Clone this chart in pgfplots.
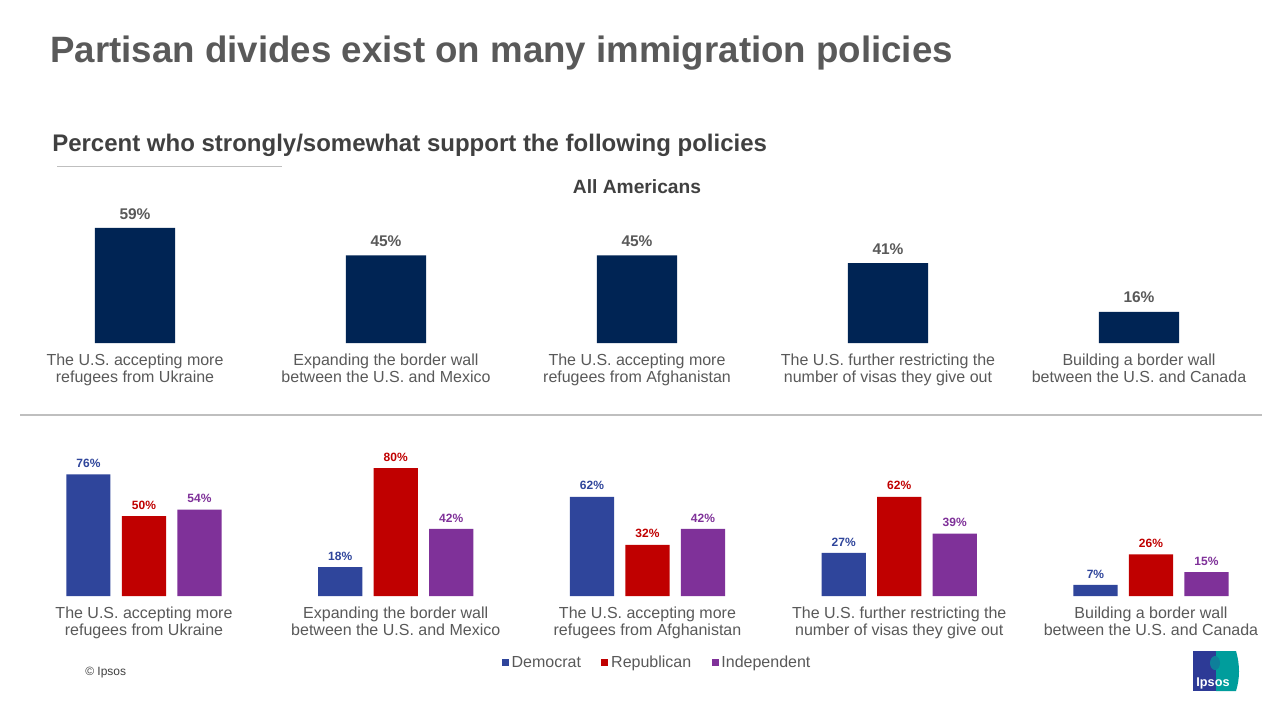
\documentclass[border=0pt]{standalone}
\usepackage{pgfplots}
\pgfplotsset{compat=1.18}
\usepackage{fontspec}
\setmainfont{Liberation Sans}
\definecolor{titlegray}{HTML}{595959}
\definecolor{subgray}{HTML}{404040}
\definecolor{labgray}{HTML}{595959}
\definecolor{linegray}{HTML}{BFBFBF}
\definecolor{navy}{HTML}{002454}
\definecolor{dem}{HTML}{2F459B}
\definecolor{rep}{HTML}{C00000}
\definecolor{ind}{HTML}{7F3199}
\definecolor{ipblue}{HTML}{2D3A96}
\definecolor{ipteal}{HTML}{009D9C}
\begin{document}
\begin{tikzpicture}
\useasboundingbox[fill=white] (0pt,0pt) rectangle (960pt,-540pt);
\begin{scope}[x=0.75pt,y=-0.75pt]
\node[anchor=base west,inner sep=0pt,text=titlegray,font=\bfseries\fontsize{27.5}{30}\selectfont] at (50,63) {Partisan divides exist on many immigration policies};
\node[anchor=base west,inner sep=0pt,text=subgray,font=\bfseries\fontsize{18}{20}\selectfont] at (52,152) {Percent who strongly/somewhat support the following policies};
\draw[linegray,line width=0.75pt] (57,167) -- (282,167);
\node[anchor=base,inner sep=0pt,text=subgray,font=\bfseries\fontsize{14.4}{16}\selectfont] at (637,194) {All Americans};
\draw[linegray,line width=1pt] (20,415) -- (1262,415);
\node[anchor=west,inner sep=0pt,text=subgray,font=\fontsize{9}{10}\selectfont] at (85,673) {© Ipsos};
% logo
\fill[ipblue] (1193,651) rectangle (1216,691);
\fill[ipteal] (1216,651) -- (1236,651) .. controls (1240,665) and (1240,678) .. (1236,691) -- (1216,691) -- cycle;
\fill[ipteal!70!ipblue] (1215,663) ellipse (5 and 7);
\node[text=white,font=\bfseries\fontsize{9.5}{10}\selectfont,inner sep=0pt] at (1213,683) {Ipsos};
\end{scope}

\begin{axis}[at={(7.125pt,-257.25pt)},anchor=south west,scale only axis,
  width=941.25pt,height=102.375pt,
  xmin=-0.5,xmax=4.5,ymin=0,ymax=70,
  axis line style={draw=none},ytick=\empty,
  xtick={0,1,2,3,4},major tick length=0pt,
  /pgf/number format/assume math mode=true,
  xticklabels={{The U.S. accepting more\\refugees from Ukraine},
    {Expanding the border wall\\between the U.S. and Mexico},
    {The U.S. accepting more\\refugees from Afghanistan},
    {The U.S. further restricting the\\number of visas they give out},
    {Building a border wall\\between the U.S. and Canada}},
  xticklabel style={align=center,font=\fontsize{12}{12.75}\selectfont,text=labgray,yshift=-5pt},
  ybar,bar width=0.319,clip=false,
  nodes near coords={\pgfmathprintnumber{\pgfplotspointmeta}\%},
  every node near coord/.append style={font=\bfseries\fontsize{11.6}{12}\selectfont,text=labgray,yshift=3pt}]
\addplot[fill=navy,draw=none] coordinates {(0,59)(1,45)(2,45)(3,41)(4,16)};
\end{axis}

\begin{axis}[at={(13.58pt,-447pt)},anchor=south west,scale only axis,
  width=944.06pt,height=108pt,
  xmin=-0.5,xmax=4.5,ymin=0,ymax=90,
  axis line style={draw=none},ytick=\empty,
  xtick={0,1,2,3,4},major tick length=0pt,
  /pgf/number format/assume math mode=true,
  xticklabels={{The U.S. accepting more\\refugees from Ukraine},
    {Expanding the border wall\\between the U.S. and Mexico},
    {The U.S. accepting more\\refugees from Afghanistan},
    {The U.S. further restricting the\\number of visas they give out},
    {Building a border wall\\between the U.S. and Canada}},
  xticklabel style={align=center,font=\fontsize{12}{12.75}\selectfont,text=labgray,yshift=-4.5pt},
  ybar,bar width=0.175,clip=false,
  nodes near coords={\pgfmathprintnumber{\pgfplotspointmeta}\%},
  every node near coord/.append style={font=\bfseries\fontsize{9}{10}\selectfont,yshift=1.5pt},
  legend style={at={(0.508,-0.465)},anchor=center,draw=none,fill=none,
    legend columns=3,font=\fontsize{12}{13}\selectfont,text=labgray,
    /tikz/every even column/.append style={column sep=13pt},
    inner sep=0pt,nodes={inner sep=2.2pt}},
  legend image code/.code={\fill[#1] (0pt,-2.6pt) rectangle (5.25pt,2.6pt);}]
\addplot[fill=dem,draw=none,bar shift=-0.2205,every node near coord/.append style={text=dem}] coordinates {(0,76)(1,18)(2,62)(3,27)(4,7)};
\addplot[fill=rep,draw=none,bar shift=0,every node near coord/.append style={text=rep}] coordinates {(0,50)(1,80)(2,32)(3,62)(4,26)};
\addplot[fill=ind,draw=none,bar shift=0.2205,every node near coord/.append style={text=ind}] coordinates {(0,54)(1,42)(2,42)(3,39)(4,15)};
\legend{Democrat,Republican,Independent}
\end{axis}
\end{tikzpicture}
\end{document}
